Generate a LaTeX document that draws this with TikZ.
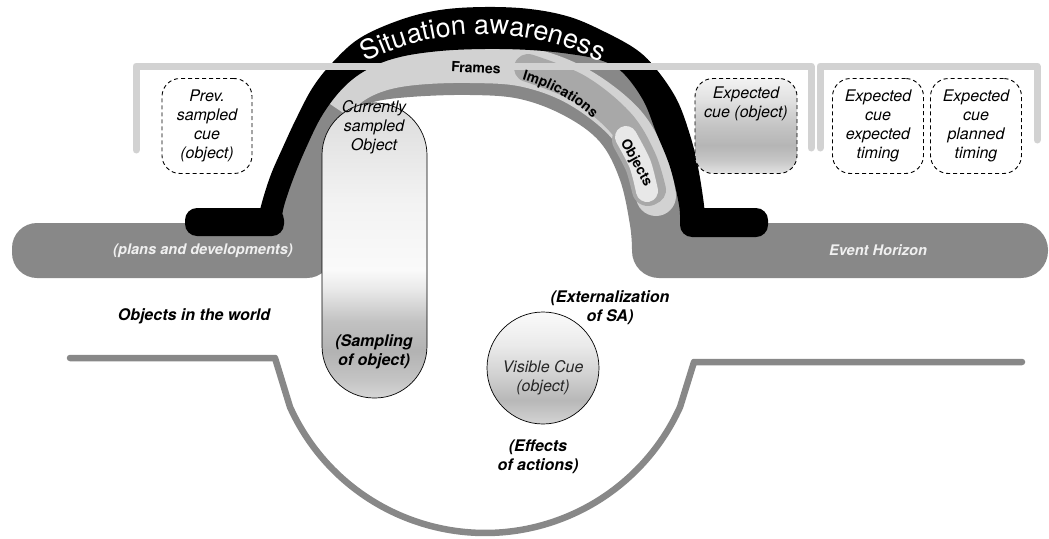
\documentclass[tikz,border=0pt]{standalone}
\usepackage{fontspec}
\setmainfont{TeX Gyre Heros}
\usetikzlibrary{decorations.text}
\definecolor{gA}{HTML}{888888}
\definecolor{gL}{HTML}{D2D2D2}
\definecolor{gM}{HTML}{A8A8A8}
\definecolor{gP}{HTML}{E8E8E8}
\pgfdeclareverticalshading{boxshade}{100bp}{color(0bp)=(black!16); color(25bp)=(black!16); color(28bp)=(black!23); color(33bp)=(black!30); color(38bp)=(black!24); color(43.3bp)=(black!9); color(46.7bp)=(black!2); color(58.6bp)=(black!5); color(75bp)=(black!14); color(100bp)=(black!14)}
\pgfdeclareverticalshading{cueshade}{100bp}{color(0bp)=(black!11); color(25bp)=(black!11); color(31.8bp)=(black!22); color(39.7bp)=(black!29); color(50.3bp)=(black!23); color(63.4bp)=(black!12); color(75bp)=(black!5); color(100bp)=(black!5)}
\pgfdeclareverticalshading{circshade}{100bp}{color(0bp)=(black!17); color(25bp)=(black!17); color(35.7bp)=(black!28); color(46.9bp)=(black!18); color(60.3bp)=(black!8); color(75bp)=(black!2); color(100bp)=(black!2)}
\begin{document}
\begin{tikzpicture}[x=1pt,y=-1pt,
  dbox/.style={draw=black, dash pattern=on 4pt off 3pt, line width=0.9pt, rounded corners=18pt, fill=white, minimum height=95pt, align=center, font=\fontsize{16}{19}\selectfont\itshape, inner sep=0pt},
  btxt/.style={font=\fontsize{16}{19}\selectfont\itshape, align=center},
  lbl/.style={font=\fontsize{16}{19}\selectfont\bfseries\itshape, align=center},
  barlbl/.style={font=\fontsize{14.6}{19}\selectfont\bfseries\itshape, text=black!6},
  bandlbl/.style={font=\fontsize{14}{16}\selectfont\bfseries},
  bracket/.style={gL, line width=7pt, line cap=round, line join=round}]
\useasboundingbox (0,0) rectangle (1049,538);

% gray bars
\fill[gA, rounded corners=25pt] (12,223) rectangle (332,278);
\fill[gA, rounded corners=27pt] (632,223) rectangle (1048,278);

% gray arch body
\fill[gA] plot[smooth, tension=0.6] coordinates {(324,250) (324,175) (330,142) (345,118) (370,103) (410,97) (470,95) (520,99) (565,116) (600,142) (620,180) (630,225) (632,250)}
  -- plot[smooth, tension=0.6] coordinates {(693,250) (692,210) (685,167) (672,125) (655,90) (630,62) (600,45) (560,33) (485,28) (420,33) (380,45) (345,68) (320,98) (305,125) (292,160) (280,195) (272,225) (270,250)} -- cycle;

% frames band
\draw[gL, line width=40pt] plot[smooth, tension=0.6] coordinates {(333,106) (350,86) (378,72) (415,65) (470,63) (525,67) (577,86) (624,122) (648,163) (656,196)};
\fill[gL] (656,196) circle[radius=20];

% black band
\fill[black] plot[smooth, tension=0.6] coordinates {(259,225) (260,210) (270,177) (283,147) (297,117) (313,87) (333,62) (360,38) (400,20) (440,10) (485,7) (530,9) (570,17) (605,32) (637,50) (657,70) (677,100) (690,135) (698,167) (704,205) (705,225)}
  -- plot[smooth, tension=0.6] coordinates {(680,225) (679,205) (670,167) (656,132) (643,100) (622,72) (600,60) (570,54) (530,50) (485,49) (440,51) (400,57) (370,68) (345,86) (323,114) (306,148) (292,182) (283,210) (282,225)} -- cycle;
\fill[black, rounded corners=12pt] (185,208) rectangle (284,236);
\fill[black, rounded corners=12pt] (680,208) rectangle (768,237);

% implications band and objects pill
\draw[gM, line width=28pt, line cap=round] plot[smooth, tension=0.6] coordinates {(528,68) (578,88) (620,122) (642,158) (652,190)};
\draw[gM, line width=32pt, line cap=round] plot[smooth] coordinates {(628,140) (641,165) (648,190)};
\draw[gP, line width=22pt, line cap=round] plot[smooth] coordinates {(626,137) (640,164) (647,191)};

% brackets
\draw[bracket] (136,150) -- (136,66) -- (811,66) -- (811,148);
\draw[bracket] (820,148) -- (820,66) -- (1037,66) -- (1037,140);

% arch texts
\path[decorate, decoration={text along path, text align=center, text={|\fontsize{27}{27}\selectfont\color{white}|Situation awareness}}] (483,294) ++(241:260) arc[start angle=241, end angle=299, radius=260];
\node[bandlbl, rotate=-3] (frames) at (476,68) {Frames};
\path[decorate, decoration={text along path, text align=center, text={|\fontsize{14}{14}\selectfont\bfseries|Implications}}] (472,253) ++(285:181) arc[start angle=285, end angle=313, radius=181];
\node[bandlbl, rotate=-61] (objects) at (636,163) {Objects};

% bar labels
\node[barlbl] (plans) at (203,251) {(plans and developments)};
\node[barlbl] (eh) at (878,250) {Event Horizon};

% dashed boxes
\node[dbox, minimum width=90pt] (prev) at (207,126) {Prev.\\sampled\\cue\\(object)};
\node[dbox, minimum width=102pt, shade, shading=cueshade] (expobj) at (746,126) {};
\node[btxt] (expobjt) at (746,103.5) {Expected\\cue (object)};
\node[dbox, minimum width=91pt] (expt) at (878,126) {Expected\\cue\\expected\\timing};
\node[dbox, minimum width=91pt] (plant) at (976,126) {Expected\\cue\\planned\\timing};

% currently sampled object
\node[draw=black, line width=0.7pt, shade, shading=boxshade, rounded corners=52pt, minimum width=105pt, minimum height=295pt, inner sep=0pt] (cur) at (374.5,250.5) {};
\node[btxt] (curt) at (374,127) {Currently\\sampled\\Object};
\node[lbl] (samp) at (374,352) {(Sampling\\of object)};

% world line
\draw[gA, line width=6.5pt, line cap=round, line join=round] (70,358) -- (275,358) -- (290,407) arc[start angle=155.7, end angle=24.3, radius=214] -- (694,362) -- (1022,362);

% visible cue
\node[circle, draw=black, line width=0.7pt, shade, shading=circshade, minimum size=112pt, inner sep=0pt] (vis) at (543,368) {};
\node[btxt, text=black!85] (vist) at (543,378) {Visible Cue\\(object)};

% labels
\node[lbl] (world) at (194,316) {Objects in the world};
\node[lbl] (ext) at (610,308) {(Externalization\\of SA)};
\node[lbl] (eff) at (538,457) {(Effects\\of actions)};
\end{tikzpicture}
\end{document}
